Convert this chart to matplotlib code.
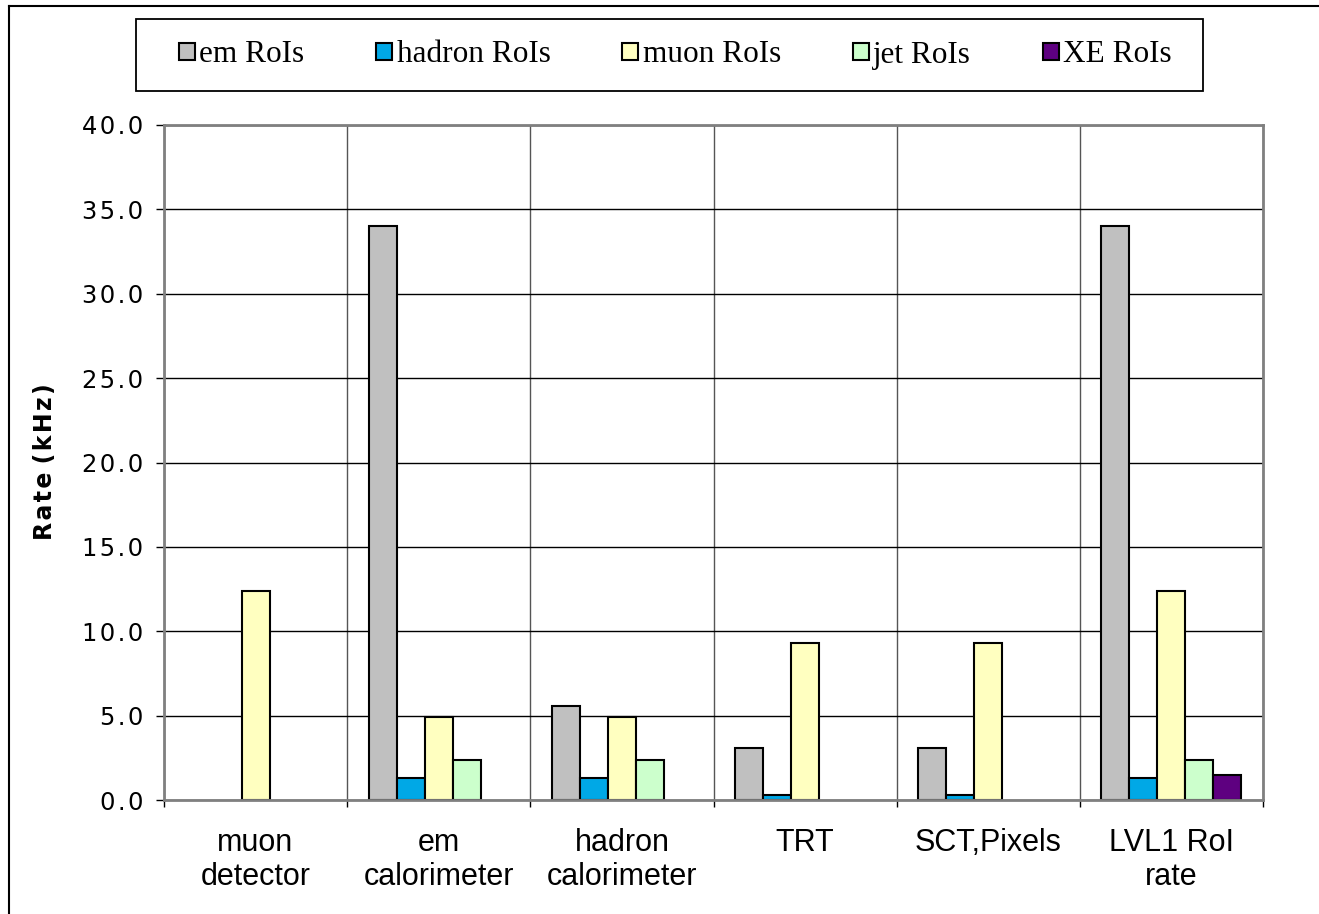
import numpy as np
import matplotlib
matplotlib.use("Agg")
import matplotlib.pyplot as plt
from matplotlib.lines import Line2D
from matplotlib.patches import Rectangle
from matplotlib.font_manager import FontProperties

categories = ["muon\ndetector", "em\ncalorimeter", "hadron\ncalorimeter",
              "TRT", "SCT,Pixels", "LVL1 RoI\nrate"]
series_names = ["em RoIs", "hadron RoIs", "muon RoIs", "jet RoIs", "XE RoIs"]
em_rois = [0.0, 34.0, 5.6, 3.1, 3.1, 34.0]
hadron_rois = [0.0, 1.3, 1.3, 0.3, 0.3, 1.3]
muon_rois = [12.4, 4.9, 4.9, 9.3, 9.3, 12.4]
jet_rois = [0.0, 2.4, 2.4, 0.0, 0.0, 2.4]
xe_rois = [0.0, 0.0, 0.0, 0.0, 0.0, 1.5]
y_ticks = [0.0, 5.0, 10.0, 15.0, 20.0, 25.0, 30.0, 35.0, 40.0]

colors = ["#C0C0C0", "#00A8E6", "#FFFFC0", "#CCFFCC", "#5E0080"]

W, H = 1319, 914
HAIR = "\u200a"


def spaced(s):
    # a bit of letter spacing, like the old spreadsheet fonts
    return HAIR.join(s)


def main():
    fig = plt.figure(figsize=(W / 100, H / 100), dpi=100)
    ax = fig.add_axes([164 / W, 1 - 800 / H, (1263 - 164) / W, (800 - 125) / H])

    x = np.arange(len(categories))
    bw = 0.153
    all_series = [em_rois, hadron_rois, muon_rois, jet_rois, xe_rois]
    handles = []
    for i, (vals, c) in enumerate(zip(all_series, colors)):
        v = np.array(vals, dtype=float)
        v[v == 0] = np.nan  # empty slots are not drawn
        b = ax.bar(x + (i - 2) * bw, v, bw, color=c, edgecolor="black",
                   linewidth=1.5, zorder=2)
        handles.append(b)

    ax.set_xlim(-0.5, len(categories) - 0.5)
    ax.set_ylim(0, 40)

    # horizontal grid
    ax.set_yticks(y_ticks, [spaced(f"{t:.1f}") for t in y_ticks])
    ax.tick_params(axis="y", length=6, width=1, color="black", pad=9,
                   labelsize=17.5, labelfontfamily="DejaVu Sans")
    ax.yaxis.grid(True, color="black", linewidth=1)

    # vertical separators between categories
    ax.set_xticks(np.arange(-0.5, len(categories)))
    ax.set_xticklabels([])
    ax.tick_params(axis="x", which="major", length=5, width=1, color="black")
    ax.xaxis.grid(True, which="major", color="#555555", linewidth=1)
    ax.set_xticks(x, minor=True)
    ax.set_xticklabels(categories, minor=True, fontfamily="Liberation Sans",
                       fontsize=22, linespacing=1.2)
    ax.tick_params(axis="x", which="minor", length=0, pad=20)
    ax.set_axisbelow(True)

    for s in ax.spines.values():
        s.set_color("#808080")
        s.set_linewidth(2)

    fig.text(45 / W, 1 - 462 / H, spaced("Rate") + " " + spaced("(kHz)"),
             rotation=90, ha="center", va="center", fontweight="bold",
             fontfamily="DejaVu Sans", fontsize=17)

    fig.legend(handles, series_names, loc="center",
               bbox_to_anchor=(675.5 / W, 1 - 55 / H), ncol=5,
               frameon=False,
               prop=FontProperties(family="Liberation Serif", size=22.5),
               handlelength=0.5, handleheight=0.5, handletextpad=0.15,
               columnspacing=2.3, borderpad=0, borderaxespad=0)
    # legend box
    fig.add_artist(Rectangle((136 / W, 1 - 91 / H), (1203 - 136) / W, 72 / H,
                             transform=fig.transFigure, fill=False,
                             edgecolor="black", linewidth=1.3))

    # outer border (left and top edges)
    fig.add_artist(Line2D([9 / W, 9 / W], [0, 1 - 6 / H], transform=fig.transFigure,
                          color="black", linewidth=1.5))
    fig.add_artist(Line2D([9 / W, 1], [1 - 6 / H, 1 - 6 / H], transform=fig.transFigure,
                          color="black", linewidth=1.5))

    fig.savefig("out.png", dpi=100, facecolor="white")


if __name__ == "__main__":
    main()
